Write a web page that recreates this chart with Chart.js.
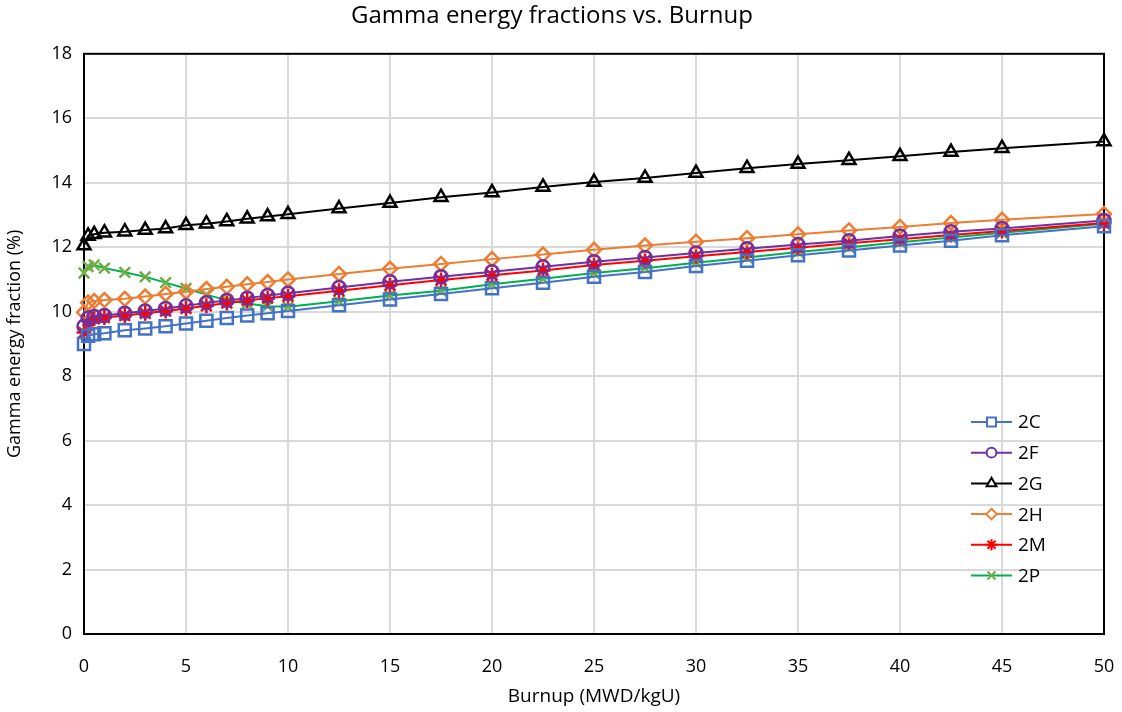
<!DOCTYPE html>
<html>
<head>
<meta charset="utf-8">
<script src="https://cdn.jsdelivr.net/npm/chart.js@4"></script>
<style>
  html, body { margin: 0; padding: 0; background: #fff; }
  #wrap { width: 1122px; height: 712px; }
</style>
</head>
<body>
<div id="wrap"><canvas id="myChart"></canvas></div>
<script>
const burnup = [0, 0.2, 0.5, 1, 2, 3, 4, 5, 6, 7, 8, 9, 10, 12.5, 15, 17.5, 20, 22.5, 25, 27.5, 30, 32.5, 35, 37.5, 40, 42.5, 45, 50];

const s2C = [9.0, 9.25, 9.3, 9.33, 9.42, 9.48, 9.55, 9.63, 9.72, 9.8, 9.88, 9.95, 10.02, 10.2, 10.38, 10.55, 10.73, 10.9, 11.08, 11.23, 11.42, 11.58, 11.75, 11.9, 12.05, 12.2, 12.37, 12.65];
const s2F = [9.55, 9.8, 9.85, 9.88, 9.95, 10.02, 10.1, 10.18, 10.28, 10.35, 10.42, 10.5, 10.57, 10.75, 10.93, 11.08, 11.24, 11.39, 11.55, 11.68, 11.82, 11.95, 12.08, 12.2, 12.35, 12.48, 12.58, 12.83];
const s2G = [12.05, 12.35, 12.4, 12.45, 12.48, 12.53, 12.58, 12.68, 12.73, 12.8, 12.88, 12.95, 13.02, 13.2, 13.37, 13.55, 13.7, 13.87, 14.02, 14.15, 14.3, 14.45, 14.58, 14.7, 14.82, 14.95, 15.07, 15.28];
const s2H = [9.98, 10.28, 10.33, 10.36, 10.4, 10.47, 10.55, 10.62, 10.7, 10.77, 10.85, 10.92, 11.0, 11.17, 11.33, 11.48, 11.63, 11.77, 11.92, 12.05, 12.17, 12.28, 12.4, 12.52, 12.63, 12.75, 12.85, 13.03];
const s2M = [9.35, 9.72, 9.78, 9.82, 9.88, 9.95, 10.02, 10.1, 10.18, 10.27, 10.35, 10.42, 10.48, 10.65, 10.82, 10.98, 11.13, 11.28, 11.45, 11.58, 11.72, 11.85, 11.98, 12.12, 12.25, 12.38, 12.5, 12.75];
const s2P = [11.2, 11.4, 11.45, 11.35, 11.22, 11.08, 10.9, 10.72, 10.53, 10.35, 10.25, 10.17, 10.15, 10.32, 10.5, 10.65, 10.85, 11.02, 11.2, 11.35, 11.52, 11.68, 11.85, 12.0, 12.15, 12.3, 12.45, 12.73];

const seriesNames = ["2C", "2F", "2G", "2H", "2M", "2P"];
const seriesValues = [s2C, s2F, s2G, s2H, s2M, s2P];

// line colour, marker colour, marker shape
const styles = [
  { line: "#4472C4", marker: "#4472C4", shape: "rect", r: 8.5 },
  { line: "#7030A0", marker: "#7030A0", shape: "circle", r: 6.5 },
  { line: "#000000", marker: "#000000", shape: "triangle", r: 7.5 },
  { line: "#ED7D31", marker: "#ED7D31", shape: "rectRot", r: 7 },
  { line: "#FF0000", marker: "#FF0000", shape: "star", r: 7.5 },
  { line: "#00B050", marker: "#70AD47", shape: "crossRot", r: 7.5 },
];

const datasets = seriesNames.map((name, i) => ({
  label: name,
  data: burnup.map((x, j) => ({ x: x, y: seriesValues[i][j] })),
  showLine: true,
  clip: false,
  borderColor: styles[i].line,
  backgroundColor: "rgba(0,0,0,0)",
  borderWidth: 2,
  pointStyle: styles[i].shape,
  pointRadius: styles[i].r,
  pointBorderColor: styles[i].marker,
  pointBackgroundColor: "rgba(0,0,0,0)",
  pointBorderWidth: 2.5,
}));

// black frame round the plot area
const frame = {
  id: "frame",
  beforeDatasetsDraw(chart) {
    const a = chart.chartArea, c = chart.ctx;
    c.save();
    c.strokeStyle = "#000";
    c.lineWidth = 2;
    c.strokeRect(a.left, a.top, a.right - a.left, a.bottom - a.top);
    c.restore();
  }
};

// legend with a line through the marker, inside the plot
const lineLegend = {
  id: "lineLegend",
  afterDraw(chart) {
    const c = chart.ctx;
    const x0 = 971, x1 = 1012, y0 = 422, step = 30.7;
    c.save();
    c.font = "19px 'Open Sans', sans-serif";
    c.textBaseline = "middle";
    chart.data.datasets.forEach((ds, i) => {
      const y = y0 + i * step;
      c.strokeStyle = ds.borderColor;
      c.lineWidth = 2;
      c.beginPath();
      c.moveTo(x0, y);
      c.lineTo(x1, y);
      c.stroke();
      c.strokeStyle = ds.pointBorderColor;
      c.fillStyle = "#fff";
      c.lineWidth = 2;
      Chart.helpers.drawPoint(c, { pointStyle: ds.pointStyle, radius: ds.pointRadius * 0.75, rotation: 0, borderWidth: 2 }, (x0 + x1) / 2, y);
      c.fillStyle = "#000";
      c.fillText(ds.label, 1018, y + 1);
    });
    c.restore();
  }
};

const ctx = document.getElementById("myChart").getContext("2d");
const myChart = new Chart(ctx, {
  type: "scatter",
  data: { datasets: datasets },
  options: {
    responsive: true,
    maintainAspectRatio: false,
    animation: false,
    layout: { padding: { left: 0, right: 18, top: 0, bottom: 0 } },
    plugins: {
      legend: { display: false },
      tooltip: { enabled: false },
      title: {
        display: true,
        text: "Gamma energy fractions vs. Burnup",
        color: "#000",
        font: { family: "'Open Sans', sans-serif", size: 24, weight: "normal" },
        padding: { top: 2, bottom: 23 },
      },
    },
    scales: {
      x: {
        type: "linear",
        min: 0,
        max: 50,
        afterFit(scale) {
          scale.height = 78;
          scale.paddingLeft = 0;
          scale.paddingRight = 0;
        },
        ticks: { stepSize: 5, color: "#000", padding: 22, font: { family: "'Open Sans', sans-serif", size: 18 } },
        grid: { color: "#D9D9D9", lineWidth: 2, drawTicks: false },
        border: { display: true, color: "#000", width: 2 },
        title: {
          display: true,
          text: "Burnup (MWD/kgU)",
          color: "#000",
          font: { family: "'Open Sans', sans-serif", size: 19 },
          padding: { top: 4 },
        },
      },
      y: {
        min: 0,
        max: 18,
        afterFit(scale) { scale.width = 84; },
        ticks: { stepSize: 2, color: "#000", padding: 12, font: { family: "'Open Sans', sans-serif", size: 18 } },
        grid: { color: "#D9D9D9", lineWidth: 2, drawTicks: false },
        border: { display: true, color: "#000", width: 2 },
        title: {
          display: true,
          text: "Gamma energy fraction (%)",
          color: "#000",
          font: { family: "'Open Sans', sans-serif", size: 18 },
          padding: { bottom: 0 },
        },
      },
    },
  },
  plugins: [frame, lineLegend],
});
</script>
</body>
</html>
